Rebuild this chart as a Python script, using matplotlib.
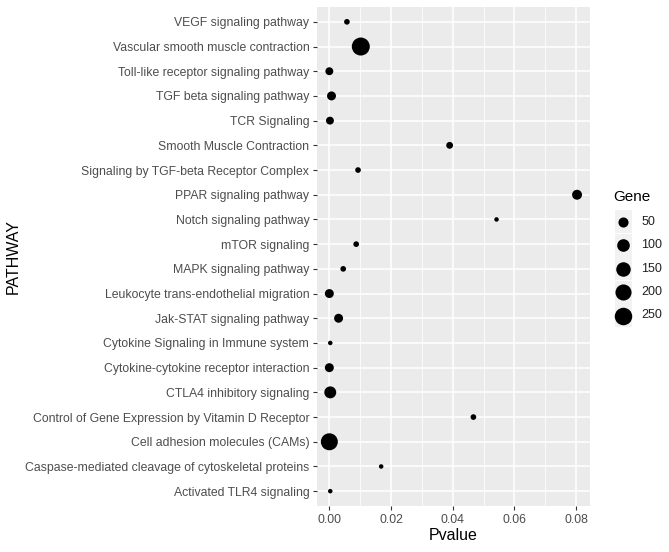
import numpy as np
import matplotlib
matplotlib.use("Agg")
import matplotlib.pyplot as plt
from matplotlib.patches import Rectangle

plt.rcParams['font.family'] = ['Liberation Sans', 'DejaVu Sans']

# ---- data (bottom to top, ggplot factor order) ----
pathways = [
    "Activated TLR4 signaling",
    "Caspase-mediated cleavage of cytoskeletal proteins",
    "Cell adhesion molecules (CAMs)",
    "Control of Gene Expression by Vitamin D Receptor",
    "CTLA4 inhibitory signaling",
    "Cytokine-cytokine receptor interaction",
    "Cytokine Signaling in Immune system",
    "Jak-STAT signaling pathway",
    "Leukocyte trans-endothelial migration",
    "MAPK signaling pathway",
    "mTOR signaling",
    "Notch signaling pathway",
    "PPAR signaling pathway",
    "Signaling by TGF-beta Receptor Complex",
    "Smooth Muscle Contraction",
    "TCR Signaling",
    "TGF beta signaling pathway",
    "Toll-like receptor signaling pathway",
    "Vascular smooth muscle contraction",
    "VEGF signaling pathway",
]
pvalue = [0.0003, 0.0168, 0.0000, 0.0467, 0.0003, 0.0000, 0.0003, 0.0030,
          0.0000, 0.0045, 0.0087, 0.0542, 0.0803, 0.0093, 0.0390, 0.0002,
          0.0007, 0.0000, 0.0102, 0.0057]
gene = [4, 4, 232, 6, 85, 33, 4, 33, 33, 6, 6, 4, 47, 6, 12, 21,
        33, 21, 270, 6]
legend_breaks = [50, 100, 150, 200, 250]
x_ticks = [0.00, 0.02, 0.04, 0.06, 0.08]
x_tick_labels = ["0.00", "0.02", "0.04", "0.06", "0.08"]

# ---- size scale (ggplot-like area scale) ----
W, H, DPI = 669, 552, 100
px2pt = 72.0 / DPI
gmin, gmax = min(gene), max(gene)
dmin_px, dmax_px = 4.5, 18.0


def size_of(v):
    v = np.asarray(v, dtype=float)
    r = np.clip((v - gmin) / (gmax - gmin), 0, 1)
    d = dmin_px + (dmax_px - dmin_px) * np.sqrt(r)
    return (d * px2pt) ** 2


fig = plt.figure(figsize=(W / DPI, H / DPI), dpi=DPI)
fig.patch.set_facecolor("white")

L, R, T, B = 317, 590, 7, 506
ax = fig.add_axes([L / W, 1 - B / H, (R - L) / W, (B - T) / H])
ax.set_facecolor("#EBEBEB")
for s in ax.spines.values():
    s.set_visible(False)

ypos = np.arange(len(pathways))
ax.set_xlim(-0.0040, 0.0845)
ax.set_ylim(-0.6, len(pathways) - 0.4)

# grid
for xm in [0.01, 0.03, 0.05, 0.07]:
    ax.axvline(xm, color="white", lw=0.55, zorder=0)
for xm in x_ticks:
    ax.axvline(xm, color="white", lw=1.1, zorder=0)
for yv in ypos:
    ax.axhline(yv, color="white", lw=1.1, zorder=0)

ax.scatter(pvalue, ypos, s=size_of(gene), color="black", linewidths=0, zorder=3)

ax.set_yticks(ypos)
ax.set_yticklabels(pathways)
ax.set_xticks(x_ticks)
ax.set_xticklabels(x_tick_labels)
ax.tick_params(axis="both", colors="#333333", length=3, width=0.8,
               labelcolor="#4D4D4D", labelsize=8.8, pad=2.5)

ax.set_xlabel("Pvalue", fontsize=11.5, color="black", labelpad=2)

# ---- legend drawn manually (pixel coordinates) ----
lax = fig.add_axes([0, 0, 1, 1], facecolor="none")
lax.set_xlim(0, W)
lax.set_ylim(H, 0)
lax.axis("off")
lax.text(13, 256, "PATHWAY", fontsize=11.5, rotation=90, va="center",
         ha="center", color="black")
lax.text(613, 197, "Gene", fontsize=11, va="center", ha="left", color="black")
key_y = [221.7, 245.3, 268.8, 292.3, 315.5]
for yk, b in zip(key_y, legend_breaks):
    lax.add_patch(Rectangle((614.5, yk - 11.5), 17.5, 23, facecolor="#F2F2F2",
                            edgecolor="none", zorder=1))
    lax.scatter([623.3], [yk], s=size_of([b]), color="black", linewidths=0, zorder=3)
    lax.text(641.5, yk, str(b), fontsize=9, va="center", ha="left", color="#222222")

fig.savefig("out.png", dpi=DPI)
